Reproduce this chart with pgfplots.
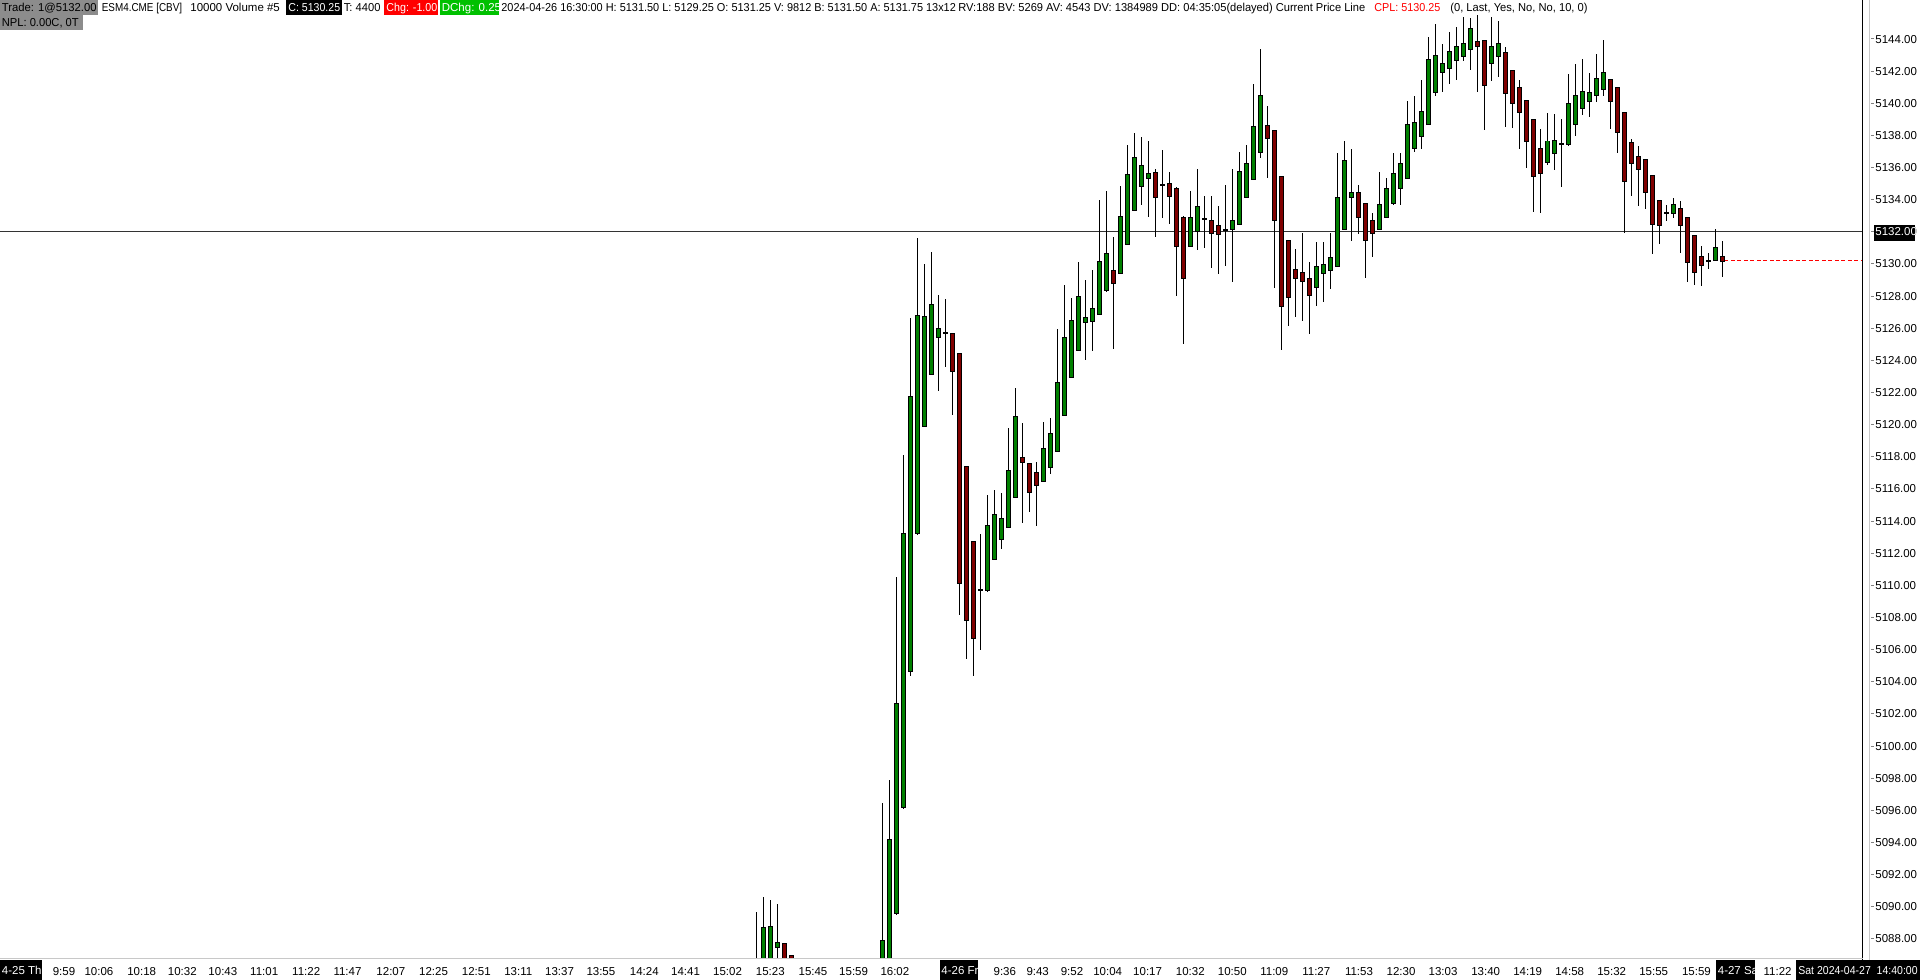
\documentclass[border=0pt]{standalone}
\usepackage{pgfplots}
\pgfplotsset{compat=1.18}
\usepackage{pgfplotstable}
\usepackage{graphicx}
\usepackage{fontspec}
\setmainfont{Liberation Sans}
\definecolor{upc}{HTML}{008000}
\definecolor{dnc}{HTML}{800000}
\definecolor{hdrgrey}{HTML}{8C8C8C}
\definecolor{chgred}{HTML}{FF0000}
\definecolor{chggreen}{HTML}{00C000}
\definecolor{sepgrey}{HTML}{C8C8C8}
\newcommand\cf{\fontsize{5.75bp}{6.9bp}\selectfont}
\newcommand\sx[2]{\scalebox{#1}[1]{#2}}

% bullish candles (and dojis): index, open, high, low, close
\pgfplotstableread{
i o h l c
-23 5085 5089.75 5084 5086.5
-22 5086 5090.75 5085.5 5088.75
-21 5086.5 5090.5 5086 5088.75
-20 5087.5 5090.25 5086.5 5087.75
-5 5084 5096.5 5083 5088
-4 5086.5 5098 5086 5094.25
-3 5089.75 5110.5 5089.5 5102.75
-2 5096.25 5118.25 5096.25 5113.25
-1 5104.75 5126.75 5104.5 5121.75
0 5113.25 5131.75 5113.25 5126.75
1 5120 5130 5120 5126.75
2 5123.25 5130.75 5123.25 5127.5
3 5125.5 5128.25 5122.25 5126
4 5125.75 5128 5123.75 5125.75
9 5109.75 5113.25 5106 5109.75
10 5109.75 5115.75 5109.75 5113.75
11 5111.75 5116 5111.75 5114.5
12 5113 5115.75 5112.25 5114.25
13 5113.75 5120 5113.75 5117.25
14 5115.5 5122.25 5115.5 5120.5
18 5116.5 5120.25 5116.5 5118.5
19 5117.5 5120.5 5117 5119.5
20 5118.5 5126 5118.5 5122.75
21 5120.75 5128.75 5120.75 5125.5
22 5123 5128 5123 5126.5
23 5124.75 5130.25 5124.75 5128
24 5126.5 5129 5124 5126.75
25 5126.5 5129.75 5124.75 5127.25
26 5127 5134 5127 5130.25
27 5128.5 5134.5 5128.25 5130.75
29 5129.5 5135 5129.5 5133
30 5131.25 5137.5 5131.25 5135.5
31 5133.5 5138.25 5133.5 5136.75
32 5135 5138 5133.75 5136.25
33 5135.5 5137.75 5133 5135.75
35 5135 5137.25 5133 5135
39 5131.25 5134.5 5131 5133
40 5132 5136 5131 5133.5
41 5132.75 5134.25 5131 5132.75
44 5132.25 5135 5130 5132.25
45 5132.25 5136 5129 5132.75
46 5132.5 5137 5132.5 5135.75
47 5134.25 5137.5 5134.25 5136.25
48 5135.25 5141.25 5135.25 5138.5
49 5137 5143.5 5136.75 5140.5
57 5128.75 5131.5 5127.5 5130
58 5129.5 5131.5 5127.75 5130
59 5129.75 5132 5128.5 5130.5
60 5130 5137 5130 5134.25
61 5132.25 5137.75 5132.25 5136.5
62 5134.25 5137.25 5131.5 5134.5
66 5132.25 5135.75 5132.25 5133.75
67 5133 5135.5 5133 5134.75
68 5134 5137 5133.75 5135.75
69 5134.75 5137 5133.75 5136.25
70 5135.5 5140.25 5135.5 5138.75
71 5137.25 5140.5 5137 5138.75
72 5138 5141.5 5137.25 5139.5
73 5138.75 5144.25 5138.75 5142.75
74 5140.75 5145 5140.5 5143
75 5142 5143.75 5140.75 5142.5
76 5142.25 5144.5 5141.25 5143.25
77 5142.75 5144.75 5141.5 5143.5
78 5143 5145.5 5142.75 5143.75
79 5143.5 5145.5 5142.25 5144.75
82 5142.5 5145.5 5141.5 5143.5
83 5143 5145.25 5141.75 5143.75
90 5136.5 5139.5 5136.25 5137.75
91 5137 5139.5 5136 5137.75
92 5137.5 5139 5134.75 5137.5
93 5137.5 5142 5137.5 5140
94 5138.75 5142.5 5138 5140.5
95 5139.75 5142.75 5139.25 5140.75
96 5140.25 5142 5139.25 5140.75
97 5140.5 5143.25 5140.25 5141.5
98 5141 5144 5140.5 5142
107 5133.25 5133.75 5132.75 5133.25
108 5133.25 5134.25 5133 5133.75
113 5130.25 5130.75 5129.75 5130.25
114 5130.25 5132.25 5130.25 5131
}\upcandles

% bearish candles: index, open, high, low, close
\pgfplotstableread{
i o h l c
-19 5087.75 5087.75 5085 5086
-18 5087 5087 5085 5085.5
5 5125.75 5125.75 5120.75 5123.5
6 5124.5 5124.5 5108.25 5110.25
7 5117.5 5117.5 5105.5 5108
8 5112.75 5112.75 5104.5 5106.75
15 5118 5120.25 5114 5117.75
16 5117.75 5117.75 5114.75 5116
17 5117 5117.75 5113.75 5116.25
28 5129.75 5131.75 5124.75 5129
34 5135.75 5136 5131.75 5134.25
36 5135 5135.75 5132.5 5134.25
37 5134.75 5134.75 5128 5131.25
38 5133 5133 5125 5129.25
42 5132.75 5134.25 5129.75 5132
43 5132.5 5133.75 5129.5 5132
50 5138.75 5140 5135.5 5138
51 5138.25 5138.25 5128.5 5132.75
52 5135.5 5135.5 5124.75 5127.5
53 5131.5 5131.5 5126.25 5128
54 5129.75 5131 5126.75 5129.25
55 5129.5 5132 5126.5 5129
56 5129.25 5130.25 5125.75 5128.25
63 5134.5 5135 5132 5133
64 5133.75 5133.75 5129.25 5131.5
65 5132.75 5133.25 5130.5 5132
80 5144 5145.5 5140.75 5143.75
81 5144 5144 5138.5 5141.25
84 5143.25 5143.5 5138.5 5140.75
85 5142 5142 5138.5 5140
86 5141 5141.5 5137.25 5139.5
87 5140.25 5140.25 5136 5137.75
88 5139 5139 5133.25 5135.5
89 5137.25 5138.5 5133.25 5135.75
99 5141.5 5141.5 5138.5 5140.25
100 5141 5141 5137 5138.25
101 5139.5 5139.5 5132 5135.25
102 5137.5 5137.75 5134.25 5136.25
103 5136.75 5137.5 5133.75 5136
104 5136.5 5136.5 5133.5 5134.5
105 5135.5 5135.5 5130.75 5132.5
106 5134 5134 5131.25 5132.5
109 5133.5 5134 5130.75 5132.5
110 5133 5133 5129 5130.25
111 5131.75 5131.75 5128.75 5129.5
112 5130.5 5131.25 5128.75 5130
115 5130.5 5131.5 5129.25 5130.25
}\dncandles

\pgfplotsset{
  wick/.style={draw=none, mark=none, forget plot,
    error bars/.cd, y dir=both, y explicit, error mark=none,
    error bar style={draw=black, line width=0.5bp, line cap=butt}},
  bodyout/.style={draw=none, mark=none, forget plot,
    error bars/.cd, y dir=both, y explicit, error mark=none,
    error bar style={draw=black, line width=2.3bp, line cap=butt}},
  bodyin/.style={draw=none, mark=none, forget plot,
    error bars/.cd, y dir=both, y explicit, error mark=none,
    error bar style={draw=#1, line width=1.3bp, line cap=butt}},
}

\begin{document}
\begin{tikzpicture}
\begin{axis}[
  at={(0bp,0bp)}, anchor=north west,
  scale only axis, width=931.5bp, height=478.5bp,
  xmin=-131.04, xmax=135.1, ymin=5086.88, ymax=5146.43,
  axis line style={draw=none},
  major tick length=0pt,
  ytick={5088,5090,...,5144},
  yticklabel pos=right,
  yticklabel style={anchor=west, inner sep=0pt, xshift=6bp, font=\cf,
    /pgf/number format/fixed, /pgf/number format/fixed zerofill,
    /pgf/number format/precision=2, /pgf/number format/1000 sep={},
    /pgf/number format/assume math mode=true},
  xtick={-121.9,-116.9,-110.8,-105,-99.2,-93.3,-87.3,-81.4,-75.2,-69.1,-63,-57,-51.1,-45.2,-39,-33.1,-27.1,-21,-14.9,-9.1,-3.2,12.5,17.2,22.1,27.2,32.9,39,45,51,57,63.1,69.1,75.1,81.2,87.2,93.2,99.2,105.2,111.3,122.9},
  xticklabels={9:59,10:06,10:18,10:32,10:43,11:01,11:22,11:47,12:07,12:25,12:51,13:11,13:37,13:55,14:24,14:41,15:02,15:23,15:45,15:59,16:02,9:36,9:43,9:52,10:04,10:17,10:32,10:50,11:09,11:27,11:53,12:30,13:03,13:40,14:19,14:58,15:32,15:55,15:59,11:22},
  xticklabel style={anchor=north, inner sep=0pt, yshift=-4.85bp, font=\cf},
]
% current price line and CPL line
\addplot[black!80, line width=0.5bp, forget plot] coordinates {(-131.04,5132) (135.1,5132)};
\addplot[chgred, line width=0.5bp, dash pattern=on 2bp off 1.25bp, forget plot] coordinates {(115.3,5130.25) (135.1,5130.25)};
% wicks
\addplot[wick] table[x=i, y expr={(\thisrow{h}+\thisrow{l})/2}, y error expr={(\thisrow{h}-\thisrow{l})/2}] {\upcandles};
\addplot[wick] table[x=i, y expr={(\thisrow{h}+\thisrow{l})/2}, y error expr={(\thisrow{h}-\thisrow{l})/2}] {\dncandles};
% bodies: outline then fill
\addplot[bodyout] table[x=i, y expr={(\thisrow{o}+\thisrow{c})/2}, y error expr={abs(\thisrow{c}-\thisrow{o})/2+0.0622}] {\upcandles};
\addplot[bodyin=upc] table[x=i, y expr={(\thisrow{o}+\thisrow{c})/2}, y error expr={abs(\thisrow{c}-\thisrow{o})/2}] {\upcandles};
\addplot[bodyout] table[x=i, y expr={(\thisrow{o}+\thisrow{c})/2}, y error expr={abs(\thisrow{c}-\thisrow{o})/2+0.0622}] {\dncandles};
\addplot[bodyin=dnc] table[x=i, y expr={(\thisrow{o}+\thisrow{c})/2}, y error expr={abs(\thisrow{c}-\thisrow{o})/2}] {\dncandles};
\end{axis}

\begin{scope}[x=0.5bp, y=-0.5bp]
% right-hand scale frame
\draw[black, line width=0.5bp] (1863,0) -- (1863,962);
\draw[sepgrey, line width=0.5bp] (1870,0) -- (1870,980);
\foreach \k in {0,...,28} \draw[gray, line width=0.5bp] (1871,{39+\k*32.143}) -- (1874.5,{39+\k*32.143});
\fill[black] (1874,225) rectangle (1915.5,241);
\node[white, font=\cf, anchor=west, inner sep=0pt] at (1875,232) {5132.00};
% time scale separator
\draw[sepgrey, line width=0.5bp] (0,958.5) -- (1863,958.5);
% date boxes
\fill[black] (0,960) rectangle (42,980);
\node[white, font=\cf, anchor=base west, inner sep=0pt] at (1.5,975) {4-25 Th};
\fill[black] (940,960) rectangle (978,980);
\node[white, font=\cf, anchor=base west, inner sep=0pt] at (941,975) {4-26 Fr};
\fill[black] (1716.5,960) rectangle (1755.5,980);
\node[white, font=\cf, anchor=base west, inner sep=0pt] at (1717.5,975) {4-27 Sa};
\fill[black] (1796.5,960) rectangle (1920,980);
\node[white, font=\cf, anchor=base west, inner sep=0pt] at (1798,975) {\sx{0.915}{Sat 2024-04-27\ \ 14:40:00}};
% header row 1
\fill[hdrgrey] (0,0) rectangle (98,15);
\node[black, font=\cf, anchor=base west, inner sep=0pt] at (1.5,11.5) {\sx{0.98}{Trade: 1@5132.00}};
\node[black, font=\cf, anchor=base west, inner sep=0pt] at (101.5,11.5) {\sx{0.86}{ESM4.CME [CBV]}};
\node[black, font=\cf, anchor=base west, inner sep=0pt] at (190,11.5) {\sx{1.0}{10000 Volume \#5}};
\fill[black] (286,0) rectangle (342,15);
\node[white, font=\cf, anchor=base west, inner sep=0pt] at (288,11.5) {\sx{0.92}{C: 5130.25}};
\node[black, font=\cf, anchor=base west, inner sep=0pt] at (343.5,11.5) {\sx{0.97}{T: 4400}};
\fill[chgred] (384,0) rectangle (438,15);
\node[white, font=\cf, anchor=base west, inner sep=0pt] at (386,11.5) {\sx{0.93}{Chg: -1.00}};
\fill[chggreen] (440,0) rectangle (499,15);
\node[white, font=\cf, anchor=base west, inner sep=0pt] at (441.5,11.5) {\sx{1.0}{DChg: 0.25}};
\node[black, font=\cf, anchor=base west, inner sep=0pt] at (501,11.5) {\sx{0.95}{2024-04-26 16:30:00 H: 5131.50 L: 5129.25 O: 5131.25 V: 9812 B: 5131.50 A: 5131.75 13x12}};
\node[black, font=\cf, anchor=base west, inner sep=0pt] at (958,11.5) {\sx{0.965}{RV:188 BV: 5269 AV: 4543 DV: 1384989 DD: 04:35:05(delayed) Current Price Line}};
\node[chgred, font=\cf, anchor=base west, inner sep=0pt] at (1374,11.5) {\sx{0.94}{CPL: 5130.25}};
\node[black, font=\cf, anchor=base west, inner sep=0pt] at (1450,11.5) {\sx{0.97}{(0, Last, Yes, No, No, 10, 0)}};
% header row 2
\fill[hdrgrey] (0,15.5) rectangle (83,30);
\node[black, font=\cf, anchor=base west, inner sep=0pt] at (1.5,26.5) {\sx{0.97}{NPL: 0.00C, 0T}};
\end{scope}
\pgfresetboundingbox
\useasboundingbox (0bp,0bp) rectangle (960bp,-490bp);
\end{tikzpicture}
\end{document}
